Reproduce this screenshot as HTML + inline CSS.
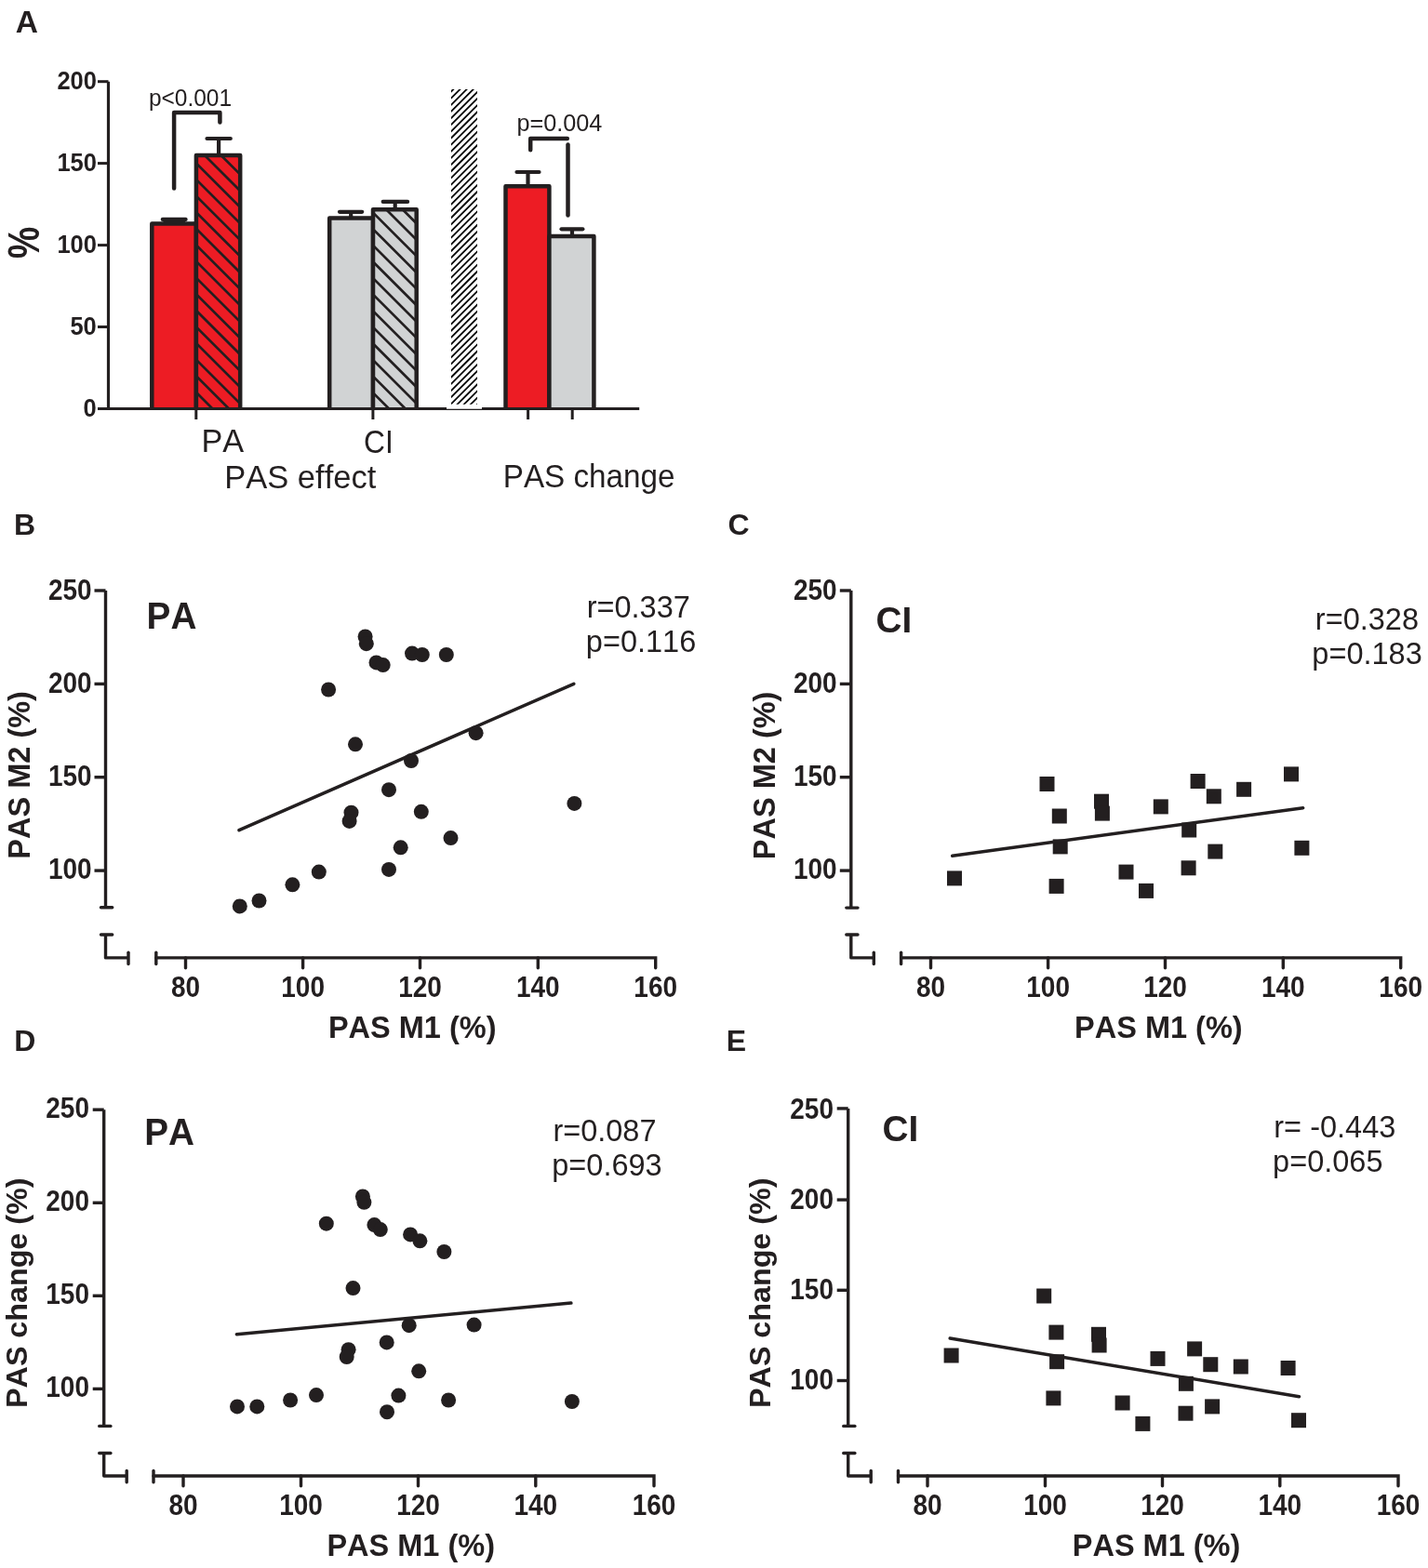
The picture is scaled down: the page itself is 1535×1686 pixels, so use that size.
<!DOCTYPE html>
<html><head><meta charset="utf-8"><title>Figure</title>
<style>html,body{margin:0;padding:0;background:#fff;overflow:hidden;}svg{display:block;}</style>
</head><body>
<svg width="1535" height="1686" viewBox="0 0 1535 1686">
<defs><clipPath id="csep"><rect x="485.0" y="95.9" width="28.0" height="338.9"/></clipPath><clipPath id="h1"><rect x="210.9" y="167.1" width="47.29999999999998" height="272.4"/></clipPath><clipPath id="h3"><rect x="401.0" y="225.3" width="46.69999999999999" height="214.2"/></clipPath></defs>
<rect width="1535" height="1686" fill="#fff"/>
<g clip-path="url(#csep)"><path d="M114.26,454.80L493.16,75.90M121.41,454.80L500.31,75.90M128.56,454.80L507.46,75.90M135.70,454.80L514.60,75.90M142.85,454.80L521.75,75.90M149.99,454.80L528.89,75.90M157.14,454.80L536.04,75.90M164.29,454.80L543.19,75.90M171.43,454.80L550.33,75.90M178.58,454.80L557.48,75.90M185.72,454.80L564.62,75.90M192.87,454.80L571.77,75.90M200.02,454.80L578.92,75.90M207.16,454.80L586.06,75.90M214.31,454.80L593.21,75.90M221.45,454.80L600.35,75.90M228.60,454.80L607.50,75.90M235.75,454.80L614.65,75.90M242.89,454.80L621.79,75.90M250.04,454.80L628.94,75.90M257.18,454.80L636.08,75.90M264.33,454.80L643.23,75.90M271.48,454.80L650.38,75.90M278.62,454.80L657.52,75.90M285.77,454.80L664.67,75.90M292.91,454.80L671.81,75.90M300.06,454.80L678.96,75.90M307.21,454.80L686.11,75.90M314.35,454.80L693.25,75.90M321.50,454.80L700.40,75.90M328.64,454.80L707.54,75.90M335.79,454.80L714.69,75.90M342.94,454.80L721.84,75.90M350.08,454.80L728.98,75.90M357.23,454.80L736.13,75.90M364.37,454.80L743.27,75.90M371.52,454.80L750.42,75.90M378.67,454.80L757.57,75.90M385.81,454.80L764.71,75.90M392.96,454.80L771.86,75.90M400.10,454.80L779.00,75.90M407.25,454.80L786.15,75.90M414.40,454.80L793.30,75.90M421.54,454.80L800.44,75.90M428.69,454.80L807.59,75.90M435.83,454.80L814.73,75.90M442.98,454.80L821.88,75.90M450.13,454.80L829.03,75.90M457.27,454.80L836.17,75.90M464.42,454.80L843.32,75.90M471.56,454.80L850.46,75.90M478.71,454.80L857.61,75.90M485.86,454.80L864.76,75.90M493.00,454.80L871.90,75.90M500.15,454.80L879.05,75.90" stroke="#000" stroke-width="1.8" fill="none"/></g>
<rect x="163.30" y="240.40" width="47.60" height="199.10" fill="#ed1c24"/><path d="M163.30,439.50V240.40H210.90V439.50" fill="none" stroke="#231f20" stroke-width="4.5" stroke-linejoin="round"/><rect x="210.90" y="167.10" width="47.30" height="272.40" fill="#ed1c24"/><path d="M190.90,67.50L278.20,154.80M190.90,85.10L278.20,172.40M190.90,102.70L278.20,190.00M190.90,120.30L278.20,207.60M190.90,137.90L278.20,225.20M190.90,155.50L278.20,242.80M190.90,173.10L278.20,260.40M190.90,190.70L278.20,278.00M190.90,208.30L278.20,295.60M190.90,225.90L278.20,313.20M190.90,243.50L278.20,330.80M190.90,261.10L278.20,348.40M190.90,278.70L278.20,366.00M190.90,296.30L278.20,383.60M190.90,313.90L278.20,401.20M190.90,331.50L278.20,418.80M190.90,349.10L278.20,436.40M190.90,366.70L278.20,454.00M190.90,384.30L278.20,471.60M190.90,401.90L278.20,489.20M190.90,419.50L278.20,506.80M190.90,437.10L278.20,524.40" stroke="#231f20" stroke-width="2.7" fill="none" clip-path="url(#h1)"/><path d="M210.90,439.50V167.10H258.20V439.50" fill="none" stroke="#231f20" stroke-width="4.5" stroke-linejoin="round"/><rect x="354.20" y="234.40" width="46.80" height="205.10" fill="#d1d3d4"/><path d="M354.20,439.50V234.40H401.00V439.50" fill="none" stroke="#231f20" stroke-width="4.5" stroke-linejoin="round"/><rect x="401.00" y="225.30" width="46.70" height="214.20" fill="#d1d3d4"/><path d="M381.00,138.30L467.70,225.00M381.00,155.90L467.70,242.60M381.00,173.50L467.70,260.20M381.00,191.10L467.70,277.80M381.00,208.70L467.70,295.40M381.00,226.30L467.70,313.00M381.00,243.90L467.70,330.60M381.00,261.50L467.70,348.20M381.00,279.10L467.70,365.80M381.00,296.70L467.70,383.40M381.00,314.30L467.70,401.00M381.00,331.90L467.70,418.60M381.00,349.50L467.70,436.20M381.00,367.10L467.70,453.80M381.00,384.70L467.70,471.40M381.00,402.30L467.70,489.00M381.00,419.90L467.70,506.60M381.00,437.50L467.70,524.20" stroke="#231f20" stroke-width="2.7" fill="none" clip-path="url(#h3)"/><path d="M401.00,439.50V225.30H447.70V439.50" fill="none" stroke="#231f20" stroke-width="4.5" stroke-linejoin="round"/><rect x="543.50" y="200.30" width="46.90" height="239.20" fill="#ed1c24"/><path d="M543.50,439.50V200.30H590.40V439.50" fill="none" stroke="#231f20" stroke-width="4.5" stroke-linejoin="round"/><rect x="590.40" y="254.00" width="48.00" height="185.50" fill="#d1d3d4"/><path d="M590.40,439.50V254.00H638.40V439.50" fill="none" stroke="#231f20" stroke-width="4.5" stroke-linejoin="round"/>
<g stroke="#231f20"><path d="M187.10,240.40V235.90" stroke-width="4.2" fill="none"/><path d="M174.80,235.90H199.60" stroke-width="4.2" stroke-linecap="round" fill="none"/><rect x="175.5" y="236" width="23.5" height="4" fill="#231f20" stroke="none"/><path d="M235.10,167.10V149.00" stroke-width="4.2" fill="none"/><path d="M222.50,149.00H247.80" stroke-width="4.2" stroke-linecap="round" fill="none"/><path d="M377.20,234.40V227.80" stroke-width="4.2" fill="none"/><path d="M365.00,227.80H389.20" stroke-width="4.2" stroke-linecap="round" fill="none"/><path d="M424.70,225.30V216.90" stroke-width="4.2" fill="none"/><path d="M411.70,216.90H438.10" stroke-width="4.2" stroke-linecap="round" fill="none"/><path d="M567.50,200.30V185.00" stroke-width="4.2" fill="none"/><path d="M555.50,185.00H579.50" stroke-width="4.2" stroke-linecap="round" fill="none"/><path d="M615.00,254.00V246.30" stroke-width="4.2" fill="none"/><path d="M603.50,246.30H626.40" stroke-width="4.2" stroke-linecap="round" fill="none"/><path d="M116.5,87.7V439.5" stroke-width="3.2" fill="none"/><path d="M105,87.7H116.5" stroke-width="3.0" fill="none"/><path d="M105,175.6H116.5" stroke-width="3.0" fill="none"/><path d="M105,263.6H116.5" stroke-width="3.0" fill="none"/><path d="M105,351.5H116.5" stroke-width="3.0" fill="none"/><path d="M105,439.5H116.5" stroke-width="3.0" fill="none"/><path d="M105,439.5H687.2" stroke-width="2.9" fill="none"/><path d="M210.8,439.5V451" stroke-width="3.0" fill="none"/><path d="M400.9,439.5V451" stroke-width="3.0" fill="none"/><path d="M567.6,439.5V451" stroke-width="3.0" fill="none"/><path d="M615.2,439.5V451" stroke-width="3.0" fill="none"/><rect x="480" y="435.5" width="38" height="4.2" fill="#fff" stroke="none"/><path d="M187.1,202.5V121.0H236.4V131.5" stroke-width="4.5" fill="none" stroke-linejoin="round" stroke-linecap="round"/><path d="M570.2,161.2V149.0H609.8" stroke-width="4.5" fill="none" stroke-linejoin="round" stroke-linecap="round"/><path d="M610.5,155.6V231.5" stroke-width="4.5" fill="none" stroke-linecap="round"/></g>
<g stroke="#231f20"><path d="M113.50,635.00V975.80" stroke-width="3.4" fill="none"/><path d="M101.50,635.00H113.50" stroke-width="3.4" fill="none"/><path d="M101.50,735.40H113.50" stroke-width="3.4" fill="none"/><path d="M101.50,835.70H113.50" stroke-width="3.4" fill="none"/><path d="M101.50,936.10H113.50" stroke-width="3.4" fill="none"/><path d="M108.50,975.80H120.70" stroke-width="3.4" stroke-linecap="round" fill="none"/><path d="M108.50,1005.00H120.70" stroke-width="3.4" stroke-linecap="round" fill="none"/><path d="M113.50,1005.00V1029.90H138.00" stroke-width="3.4" fill="none" stroke-linejoin="round"/><path d="M138.00,1024.30V1036.60" stroke-width="3.4" stroke-linecap="round" fill="none"/><path d="M167.80,1024.30V1036.60" stroke-width="3.4" stroke-linecap="round" fill="none"/><path d="M167.80,1029.90H704.70V1040.70" stroke-width="3.4" fill="none" stroke-linecap="round"/><path d="M199.50,1029.90V1040.70" stroke-width="3.4" fill="none" stroke-linecap="round"/><path d="M325.60,1029.90V1040.70" stroke-width="3.4" fill="none" stroke-linecap="round"/><path d="M451.50,1029.90V1040.70" stroke-width="3.4" fill="none" stroke-linecap="round"/><path d="M578.30,1029.90V1040.70" stroke-width="3.4" fill="none" stroke-linecap="round"/><path d="M914.80,635.00V976.10" stroke-width="3.4" fill="none"/><path d="M902.80,635.00H914.80" stroke-width="3.4" fill="none"/><path d="M902.80,735.40H914.80" stroke-width="3.4" fill="none"/><path d="M902.80,835.70H914.80" stroke-width="3.4" fill="none"/><path d="M902.80,936.10H914.80" stroke-width="3.4" fill="none"/><path d="M909.80,976.10H922.00" stroke-width="3.4" stroke-linecap="round" fill="none"/><path d="M909.80,1005.00H922.00" stroke-width="3.4" stroke-linecap="round" fill="none"/><path d="M914.80,1005.00V1029.90H939.30" stroke-width="3.4" fill="none" stroke-linejoin="round"/><path d="M939.30,1024.30V1036.60" stroke-width="3.4" stroke-linecap="round" fill="none"/><path d="M968.60,1024.30V1036.60" stroke-width="3.4" stroke-linecap="round" fill="none"/><path d="M968.60,1029.90H1505.70V1040.70" stroke-width="3.4" fill="none" stroke-linecap="round"/><path d="M1000.50,1029.90V1040.70" stroke-width="3.4" fill="none" stroke-linecap="round"/><path d="M1126.60,1029.90V1040.70" stroke-width="3.4" fill="none" stroke-linecap="round"/><path d="M1252.50,1029.90V1040.70" stroke-width="3.4" fill="none" stroke-linecap="round"/><path d="M1379.30,1029.90V1040.70" stroke-width="3.4" fill="none" stroke-linecap="round"/><path d="M111.70,1193.20V1533.40" stroke-width="3.4" fill="none"/><path d="M99.70,1193.20H111.70" stroke-width="3.4" fill="none"/><path d="M99.70,1293.30H111.70" stroke-width="3.4" fill="none"/><path d="M99.70,1393.30H111.70" stroke-width="3.4" fill="none"/><path d="M99.70,1493.40H111.70" stroke-width="3.4" fill="none"/><path d="M106.70,1533.40H118.90" stroke-width="3.4" stroke-linecap="round" fill="none"/><path d="M106.70,1562.50H118.90" stroke-width="3.4" stroke-linecap="round" fill="none"/><path d="M111.70,1562.50V1587.00H136.20" stroke-width="3.4" fill="none" stroke-linejoin="round"/><path d="M136.20,1581.40V1593.70" stroke-width="3.4" stroke-linecap="round" fill="none"/><path d="M165.00,1581.40V1593.70" stroke-width="3.4" stroke-linecap="round" fill="none"/><path d="M165.00,1587.00H703.00V1597.80" stroke-width="3.4" fill="none" stroke-linecap="round"/><path d="M197.00,1587.00V1597.80" stroke-width="3.4" fill="none" stroke-linecap="round"/><path d="M323.50,1587.00V1597.80" stroke-width="3.4" fill="none" stroke-linecap="round"/><path d="M449.50,1587.00V1597.80" stroke-width="3.4" fill="none" stroke-linecap="round"/><path d="M575.80,1587.00V1597.80" stroke-width="3.4" fill="none" stroke-linecap="round"/><path d="M911.70,1191.90V1533.40" stroke-width="3.4" fill="none"/><path d="M899.70,1191.90H911.70" stroke-width="3.4" fill="none"/><path d="M899.70,1290.10H911.70" stroke-width="3.4" fill="none"/><path d="M899.70,1387.30H911.70" stroke-width="3.4" fill="none"/><path d="M899.70,1484.50H911.70" stroke-width="3.4" fill="none"/><path d="M906.70,1533.40H918.90" stroke-width="3.4" stroke-linecap="round" fill="none"/><path d="M906.70,1562.50H918.90" stroke-width="3.4" stroke-linecap="round" fill="none"/><path d="M911.70,1562.50V1587.00H936.20" stroke-width="3.4" fill="none" stroke-linejoin="round"/><path d="M936.20,1581.40V1593.70" stroke-width="3.4" stroke-linecap="round" fill="none"/><path d="M965.50,1581.40V1593.70" stroke-width="3.4" stroke-linecap="round" fill="none"/><path d="M965.50,1587.00H1503.00V1597.80" stroke-width="3.4" fill="none" stroke-linecap="round"/><path d="M997.00,1587.00V1597.80" stroke-width="3.4" fill="none" stroke-linecap="round"/><path d="M1123.50,1587.00V1597.80" stroke-width="3.4" fill="none" stroke-linecap="round"/><path d="M1249.50,1587.00V1597.80" stroke-width="3.4" fill="none" stroke-linecap="round"/><path d="M1375.80,1587.00V1597.80" stroke-width="3.4" fill="none" stroke-linecap="round"/></g>
<g fill="#231f20"><circle cx="392.6" cy="684.4" r="8.0"/><circle cx="393.8" cy="692.2" r="8.0"/><circle cx="404.5" cy="712.4" r="8.0"/><circle cx="411.7" cy="715.1" r="8.0"/><circle cx="443.0" cy="702.6" r="8.0"/><circle cx="453.8" cy="704.0" r="8.0"/><circle cx="479.8" cy="704.0" r="8.0"/><circle cx="353.1" cy="741.5" r="8.0"/><circle cx="382.0" cy="800.3" r="8.0"/><circle cx="442.0" cy="818.0" r="8.0"/><circle cx="511.6" cy="788.2" r="8.0"/><circle cx="418.0" cy="849.2" r="8.0"/><circle cx="377.5" cy="873.7" r="8.0"/><circle cx="375.6" cy="882.9" r="8.0"/><circle cx="452.8" cy="872.8" r="8.0"/><circle cx="484.5" cy="901.1" r="8.0"/><circle cx="430.7" cy="911.3" r="8.0"/><circle cx="418.0" cy="934.9" r="8.0"/><circle cx="342.8" cy="937.6" r="8.0"/><circle cx="314.4" cy="951.3" r="8.0"/><circle cx="278.5" cy="968.5" r="8.0"/><circle cx="257.8" cy="974.4" r="8.0"/><circle cx="617.4" cy="863.9" r="8.0"/><circle cx="389.9" cy="1286.4" r="8.0"/><circle cx="391.4" cy="1292.8" r="8.0"/><circle cx="350.8" cy="1315.7" r="8.0"/><circle cx="402.4" cy="1317.1" r="8.0"/><circle cx="408.8" cy="1322.1" r="8.0"/><circle cx="441.1" cy="1327.4" r="8.0"/><circle cx="451.4" cy="1334.3" r="8.0"/><circle cx="477.4" cy="1346.0" r="8.0"/><circle cx="379.5" cy="1385.1" r="8.0"/><circle cx="439.7" cy="1425.2" r="8.0"/><circle cx="509.6" cy="1424.6" r="8.0"/><circle cx="415.7" cy="1443.4" r="8.0"/><circle cx="374.6" cy="1451.2" r="8.0"/><circle cx="372.7" cy="1459.0" r="8.0"/><circle cx="450.2" cy="1474.3" r="8.0"/><circle cx="340.0" cy="1500.1" r="8.0"/><circle cx="428.4" cy="1500.6" r="8.0"/><circle cx="312.1" cy="1505.5" r="8.0"/><circle cx="482.1" cy="1505.5" r="8.0"/><circle cx="255.0" cy="1512.4" r="8.0"/><circle cx="276.3" cy="1512.4" r="8.0"/><circle cx="416.0" cy="1518.2" r="8.0"/><circle cx="614.9" cy="1507.0" r="8.0"/><rect x="1018.00" y="936.40" width="16.0" height="16.0"/><rect x="1117.50" y="835.00" width="16.0" height="16.0"/><rect x="1130.80" y="869.50" width="16.0" height="16.0"/><rect x="1131.70" y="902.40" width="16.0" height="16.0"/><rect x="1127.60" y="944.90" width="16.0" height="16.0"/><rect x="1176.00" y="853.70" width="16.0" height="16.0"/><rect x="1176.90" y="866.60" width="16.0" height="16.0"/><rect x="1202.50" y="929.60" width="16.0" height="16.0"/><rect x="1224.00" y="949.90" width="16.0" height="16.0"/><rect x="1239.80" y="859.40" width="16.0" height="16.0"/><rect x="1270.20" y="884.50" width="16.0" height="16.0"/><rect x="1269.60" y="925.30" width="16.0" height="16.0"/><rect x="1279.60" y="832.00" width="16.0" height="16.0"/><rect x="1296.80" y="848.30" width="16.0" height="16.0"/><rect x="1298.30" y="907.60" width="16.0" height="16.0"/><rect x="1329.10" y="840.80" width="16.0" height="16.0"/><rect x="1380.00" y="824.40" width="16.0" height="16.0"/><rect x="1391.40" y="903.80" width="16.0" height="16.0"/><rect x="1014.60" y="1449.50" width="16.0" height="16.0"/><rect x="1114.20" y="1385.50" width="16.0" height="16.0"/><rect x="1127.40" y="1424.60" width="16.0" height="16.0"/><rect x="1128.10" y="1456.20" width="16.0" height="16.0"/><rect x="1124.40" y="1495.40" width="16.0" height="16.0"/><rect x="1173.00" y="1426.80" width="16.0" height="16.0"/><rect x="1173.60" y="1438.50" width="16.0" height="16.0"/><rect x="1198.60" y="1500.50" width="16.0" height="16.0"/><rect x="1220.40" y="1522.90" width="16.0" height="16.0"/><rect x="1236.50" y="1452.90" width="16.0" height="16.0"/><rect x="1266.90" y="1479.80" width="16.0" height="16.0"/><rect x="1266.50" y="1511.70" width="16.0" height="16.0"/><rect x="1276.10" y="1442.40" width="16.0" height="16.0"/><rect x="1293.30" y="1459.20" width="16.0" height="16.0"/><rect x="1295.10" y="1504.40" width="16.0" height="16.0"/><rect x="1325.80" y="1461.50" width="16.0" height="16.0"/><rect x="1376.60" y="1463.00" width="16.0" height="16.0"/><rect x="1388.00" y="1519.20" width="16.0" height="16.0"/></g>
<g stroke="#231f20"><path d="M257.0,892.7L616.8,735.3" stroke-width="3.5" stroke-linecap="round" fill="none"/><path d="M1023.7,920.3L1400.7,868.7" stroke-width="3.5" stroke-linecap="round" fill="none"/><path d="M254.4,1434.7L613.9,1401.1" stroke-width="3.5" stroke-linecap="round" fill="none"/><path d="M1021.2,1439.1L1396.5,1501.7" stroke-width="3.5" stroke-linecap="round" fill="none"/></g>
<g font-family="Liberation Sans, Arial, sans-serif" fill="#231f20" style="font-kerning:none">
<text x="16.65" y="35.00" font-size="33.5" font-weight="bold">A</text>
<text transform="translate(159.90 113.90) scale(1 1.07)" font-size="24.5" font-weight="normal">p&lt;0.001</text>
<text x="555.45" y="140.50" font-size="25.25" font-weight="normal">p=0.004</text>
<text x="216.40" y="486.30" font-size="34.25" font-weight="normal">PA</text>
<text transform="translate(391.10 486.60) scale(1 1.08)" font-size="31.75" font-weight="normal">CI</text>
<text x="241.25" y="524.90" font-size="34.5" font-weight="normal">PAS effect</text>
<text transform="translate(540.75 523.90) scale(1 1.06)" font-size="33.25" font-weight="normal">PAS change</text>
<text x="14.95" y="575.20" font-size="32" font-weight="bold">B</text>
<text x="782.55" y="575.20" font-size="32" font-weight="bold">C</text>
<text x="15.25" y="1129.70" font-size="32" font-weight="bold">D</text>
<text x="780.85" y="1129.70" font-size="32" font-weight="bold">E</text>
<text transform="translate(157.55 675.90) scale(1 1.03)" font-size="38.75" font-weight="bold">PA</text>
<text x="941.55" y="679.90" font-size="38.75" font-weight="bold">CI</text>
<text transform="translate(155.25 1230.70) scale(1 1.03)" font-size="38.75" font-weight="bold">PA</text>
<text x="948.45" y="1226.80" font-size="38.75" font-weight="bold">CI</text>
<text x="630.70" y="664.20" font-size="32.5" font-weight="normal">r=0.337</text>
<text x="629.85" y="701.10" font-size="32.5" font-weight="normal">p=0.116</text>
<text x="1413.85" y="677.00" font-size="32.5" font-weight="normal">r=0.328</text>
<text x="1410.35" y="714.30" font-size="32.5" font-weight="normal">p=0.183</text>
<text x="594.40" y="1226.70" font-size="32.5" font-weight="normal">r=0.087</text>
<text x="593.30" y="1264.10" font-size="32.5" font-weight="normal">p=0.693</text>
<text x="1369.30" y="1223.40" font-size="32.5" font-weight="normal">r= -0.443</text>
<text x="1368.10" y="1259.80" font-size="32.5" font-weight="normal">p=0.065</text>
<text x="352.90" y="1116.00" font-size="32.5" font-weight="bold">PAS M1 (%)</text>
<text x="1155.05" y="1116.00" font-size="32.5" font-weight="bold">PAS M1 (%)</text>
<text x="351.45" y="1673.40" font-size="32.5" font-weight="bold">PAS M1 (%)</text>
<text x="1152.75" y="1673.40" font-size="32.5" font-weight="bold">PAS M1 (%)</text>
<text transform="translate(31.80 923.65) rotate(-90)" font-size="32.5" font-weight="bold">PAS M2 (%)</text>
<text transform="translate(832.60 924.15) rotate(-90)" font-size="32.5" font-weight="bold">PAS M2 (%)</text>
<text transform="translate(28.50 1513.90) rotate(-90)" font-size="32.25" font-weight="bold">PAS change (%)</text>
<text transform="translate(828.10 1513.90) rotate(-90)" font-size="32.25" font-weight="bold">PAS change (%)</text>
<text transform="translate(61.40 96.00) scale(1 1.06)" font-size="25.5" font-weight="bold">200</text>
<text transform="translate(61.40 183.90) scale(1 1.06)" font-size="25.5" font-weight="bold">150</text>
<text transform="translate(61.40 271.90) scale(1 1.06)" font-size="25.5" font-weight="bold">100</text>
<text transform="translate(75.40 359.80) scale(1 1.06)" font-size="25.5" font-weight="bold">50</text>
<text transform="translate(89.40 447.80) scale(1 1.06)" font-size="25.5" font-weight="bold">0</text>
<text transform="translate(51.90 645.00) scale(1 1.15)" font-size="28" font-weight="bold">250</text>
<text transform="translate(51.90 745.00) scale(1 1.15)" font-size="28" font-weight="bold">200</text>
<text transform="translate(51.90 845.00) scale(1 1.15)" font-size="28" font-weight="bold">150</text>
<text transform="translate(51.90 945.00) scale(1 1.15)" font-size="28" font-weight="bold">100</text>
<text transform="translate(852.90 645.00) scale(1 1.15)" font-size="28" font-weight="bold">250</text>
<text transform="translate(852.90 745.00) scale(1 1.15)" font-size="28" font-weight="bold">200</text>
<text transform="translate(852.90 845.00) scale(1 1.15)" font-size="28" font-weight="bold">150</text>
<text transform="translate(852.90 945.00) scale(1 1.15)" font-size="28" font-weight="bold">100</text>
<text transform="translate(49.30 1202.00) scale(1 1.15)" font-size="28" font-weight="bold">250</text>
<text transform="translate(49.30 1302.00) scale(1 1.15)" font-size="28" font-weight="bold">200</text>
<text transform="translate(49.30 1402.00) scale(1 1.15)" font-size="28" font-weight="bold">150</text>
<text transform="translate(49.30 1502.00) scale(1 1.15)" font-size="28" font-weight="bold">100</text>
<text transform="translate(849.30 1202.50) scale(1 1.15)" font-size="28" font-weight="bold">250</text>
<text transform="translate(849.30 1299.50) scale(1 1.15)" font-size="28" font-weight="bold">200</text>
<text transform="translate(849.30 1396.70) scale(1 1.15)" font-size="28" font-weight="bold">150</text>
<text transform="translate(849.30 1493.80) scale(1 1.15)" font-size="28" font-weight="bold">100</text>
<text transform="translate(199.50 1072.00) scale(1 1.11)" text-anchor="middle" font-size="28" font-weight="bold">80</text>
<text transform="translate(325.60 1072.00) scale(1 1.11)" text-anchor="middle" font-size="28" font-weight="bold">100</text>
<text transform="translate(451.50 1072.00) scale(1 1.11)" text-anchor="middle" font-size="28" font-weight="bold">120</text>
<text transform="translate(578.30 1072.00) scale(1 1.11)" text-anchor="middle" font-size="28" font-weight="bold">140</text>
<text transform="translate(704.70 1072.00) scale(1 1.11)" text-anchor="middle" font-size="28" font-weight="bold">160</text>
<text transform="translate(1000.50 1072.00) scale(1 1.11)" text-anchor="middle" font-size="28" font-weight="bold">80</text>
<text transform="translate(1126.60 1072.00) scale(1 1.11)" text-anchor="middle" font-size="28" font-weight="bold">100</text>
<text transform="translate(1252.50 1072.00) scale(1 1.11)" text-anchor="middle" font-size="28" font-weight="bold">120</text>
<text transform="translate(1379.30 1072.00) scale(1 1.11)" text-anchor="middle" font-size="28" font-weight="bold">140</text>
<text transform="translate(1505.70 1072.00) scale(1 1.11)" text-anchor="middle" font-size="28" font-weight="bold">160</text>
<text transform="translate(197.00 1629.20) scale(1 1.11)" text-anchor="middle" font-size="28" font-weight="bold">80</text>
<text transform="translate(323.50 1629.20) scale(1 1.11)" text-anchor="middle" font-size="28" font-weight="bold">100</text>
<text transform="translate(449.50 1629.20) scale(1 1.11)" text-anchor="middle" font-size="28" font-weight="bold">120</text>
<text transform="translate(575.80 1629.20) scale(1 1.11)" text-anchor="middle" font-size="28" font-weight="bold">140</text>
<text transform="translate(703.00 1629.20) scale(1 1.11)" text-anchor="middle" font-size="28" font-weight="bold">160</text>
<text transform="translate(997.00 1629.20) scale(1 1.11)" text-anchor="middle" font-size="28" font-weight="bold">80</text>
<text transform="translate(1123.50 1629.20) scale(1 1.11)" text-anchor="middle" font-size="28" font-weight="bold">100</text>
<text transform="translate(1249.50 1629.20) scale(1 1.11)" text-anchor="middle" font-size="28" font-weight="bold">120</text>
<text transform="translate(1375.80 1629.20) scale(1 1.11)" text-anchor="middle" font-size="28" font-weight="bold">140</text>
<text transform="translate(1503.00 1629.20) scale(1 1.11)" text-anchor="middle" font-size="28" font-weight="bold">160</text>
<text transform="translate(41.70 278.00) rotate(-90) scale(1 1.244)" font-size="38.5" font-weight="bold">%</text>
</g>
</svg>
</body></html>
